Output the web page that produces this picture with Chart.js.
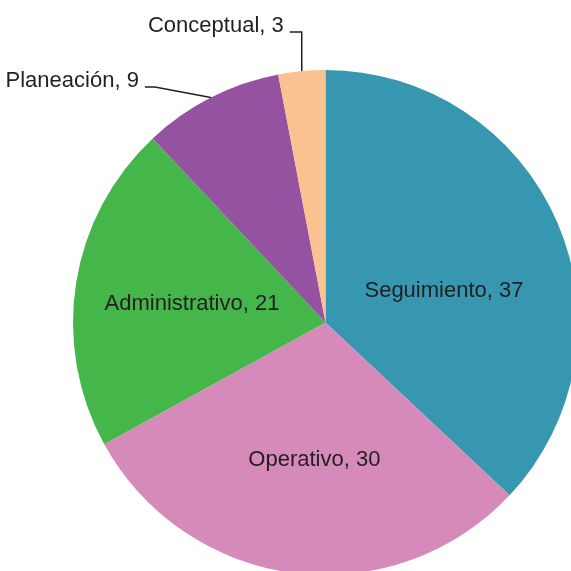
<!DOCTYPE html>
<html>
<head>
<meta charset="utf-8">
<script src="https://cdn.jsdelivr.net/npm/chart.js@4/dist/chart.umd.min.js"></script>
<style>
  html, body { margin: 0; padding: 0; background: #fff; overflow: hidden; }
  #wrap { width: 600px; height: 600px; }
</style>
</head>
<body>
<div id="wrap"><canvas id="myChart" width="600" height="600"></canvas></div>
<script>
const categories = ['Seguimiento', 'Operativo', 'Administrativo', 'Planeación', 'Conceptual']
const values = [37, 30, 21, 9, 3]
const colors = ['#3796b0', '#d58aba', '#45b649', '#9452a0', '#f9c290']

// how each label is placed: inside slices nudged a bit, small ones get a leader line
const placement = [
  { inside: true, angle: 8.3, frac: 0.486 },
  { inside: true, angle: -2.6, frac: 0.548 },
  { inside: true, angle: -1.1, frac: 0.534 },
  { inside: false, dx: -56, dy: -10.5, run: -10 },
  { inside: false, dx: 0, dy: -39, run: -12 }
]

const labelPlugin = {
  id: 'sliceLabels',
  afterDatasetsDraw(chart) {
    const ctx = chart.ctx
    const arcs = chart.getDatasetMeta(0).data
    ctx.save()
    ctx.font = '22px "Liberation Sans", Arial, sans-serif'
    ctx.fillStyle = '#231f20'
    ctx.strokeStyle = '#231f20'
    ctx.lineWidth = 1.5
    arcs.forEach((arc, i) => {
      const p = placement[i]
      const text = categories[i] + ', ' + values[i]
      const mid = (arc.startAngle + arc.endAngle) / 2
      if (p.inside) {
        const a = mid + p.angle * Math.PI / 180
        const r = arc.outerRadius * p.frac
        ctx.textAlign = 'center'
        ctx.textBaseline = 'middle'
        ctx.fillText(text, arc.x + Math.cos(a) * r, arc.y + Math.sin(a) * r)
      } else {
        const ex = arc.x + Math.cos(mid) * arc.outerRadius
        const ey = arc.y + Math.sin(mid) * arc.outerRadius
        const kx = ex + p.dx, ky = ey + p.dy
        const hx = kx + p.run
        ctx.beginPath()
        ctx.moveTo(ex, ey)
        ctx.lineTo(kx, ky)
        ctx.lineTo(hx, ky)
        ctx.stroke()
        ctx.textAlign = 'right'
        ctx.textBaseline = 'alphabetic'
        ctx.fillText(text, hx - 6, ky)
      }
    })
    ctx.restore()
  }
}

new Chart(document.getElementById('myChart'), {
  type: 'pie',
  data: {
    labels: categories,
    datasets: [{
      data: values,
      backgroundColor: colors,
      borderWidth: 0
    }]
  },
  options: {
    responsive: false,
    animation: false,
    devicePixelRatio: 1,
    layout: { padding: { left: 73, top: 70, right: 22, bottom: 25 } },
    plugins: {
      legend: { display: false },
      tooltip: { enabled: false }
    }
  },
  plugins: [labelPlugin]
})
</script>
</body>
</html>
